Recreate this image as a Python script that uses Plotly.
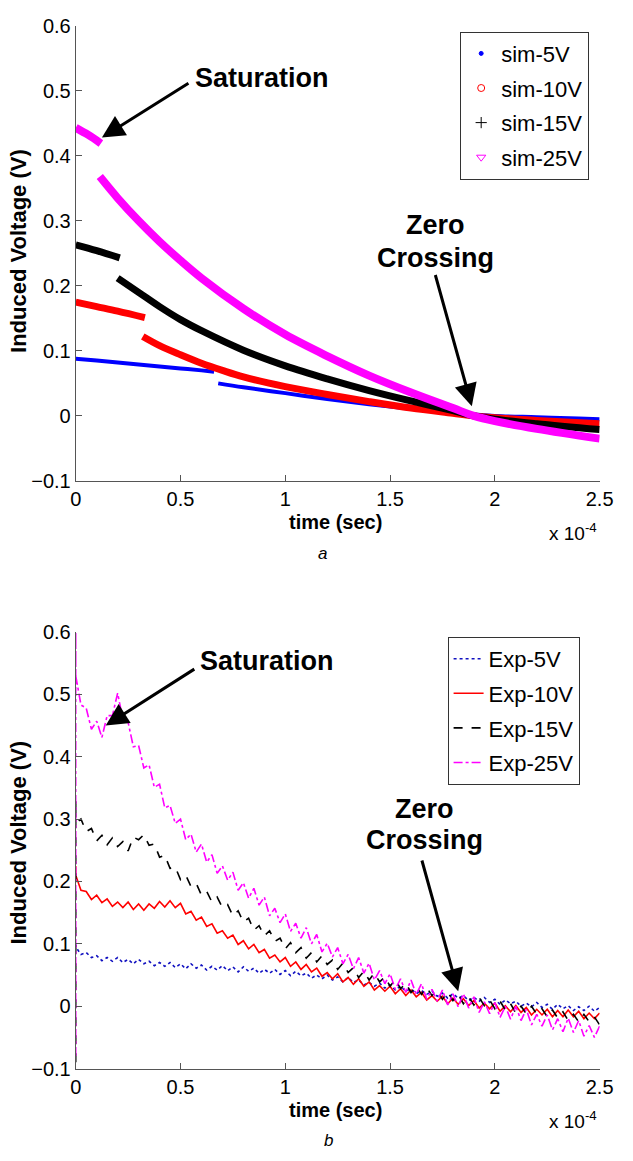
import plotly.graph_objects as go

# ---- panel a: simulated induced voltage (time in units of 1e-4 s) ----
sim5_t = [0.0, 0.1, 0.2, 0.3, 0.4, 0.5, 0.6, 0.66, None,
          0.68, 0.8, 1.0, 1.2, 1.4, 1.6, 1.8, 1.9, 2.0, 2.2, 2.4, 2.5]
sim5_v = [0.088, 0.085, 0.082, 0.079, 0.076, 0.073, 0.070, 0.068, None,
          0.050, 0.044, 0.035, 0.026, 0.018, 0.011, 0.005, 0.002, 0.0, -0.002, -0.004, -0.005]

sim10_t = [0.0, 0.1, 0.2, 0.33, None,
           0.32, 0.4, 0.5, 0.6, 0.7, 0.8, 1.0, 1.2, 1.4, 1.6, 1.8, 1.9, 2.0, 2.2, 2.5]
sim10_v = [0.175, 0.168, 0.161, 0.151, None,
           0.122, 0.108, 0.094, 0.081, 0.070, 0.060, 0.045, 0.033, 0.022, 0.012, 0.004, 0.0, -0.003, -0.007, -0.012]

sim15_t = [0.0, 0.1, 0.21, None,
           0.2, 0.3, 0.4, 0.5, 0.6, 0.8, 1.0, 1.2, 1.4, 1.6, 1.8, 1.9, 2.0, 2.2, 2.5]
sim15_v = [0.263, 0.254, 0.243, None,
           0.212, 0.190, 0.168, 0.148, 0.131, 0.101, 0.077, 0.057, 0.039, 0.023, 0.008, 0.0, -0.005, -0.012, -0.021]

sim25_t = [0.0, 0.06, 0.12, None,
           0.115, 0.2, 0.3, 0.4, 0.5, 0.6, 0.8, 1.0, 1.2, 1.4, 1.6, 1.8, 1.9, 2.0, 2.2, 2.5]
sim25_v = [0.443, 0.432, 0.419, None,
           0.368, 0.335, 0.300, 0.268, 0.239, 0.212, 0.165, 0.125, 0.092, 0.062, 0.036, 0.012, 0.0, -0.008, -0.020, -0.035]

exp_t = [0.000, 0.025, 0.050, 0.075, 0.100, 0.125, 0.150, 0.175, 0.200, 0.225,
         0.250, 0.275, 0.300, 0.325, 0.350, 0.375, 0.400, 0.425, 0.450, 0.475,
         0.500, 0.525, 0.550, 0.575, 0.600, 0.625, 0.650, 0.675, 0.700, 0.725,
         0.750, 0.775, 0.800, 0.825, 0.850, 0.875, 0.900, 0.925, 0.950, 0.975,
         1.000, 1.025, 1.050, 1.075, 1.100, 1.125, 1.150, 1.175, 1.200, 1.225,
         1.250, 1.275, 1.300, 1.325, 1.350, 1.375, 1.400, 1.425, 1.450, 1.475,
         1.500, 1.525, 1.550, 1.575, 1.600, 1.625, 1.650, 1.675, 1.700, 1.725,
         1.750, 1.775, 1.800, 1.825, 1.850, 1.875, 1.900, 1.925, 1.950, 1.975,
         2.000, 2.025, 2.050, 2.075, 2.100, 2.125, 2.150, 2.175, 2.200, 2.225,
         2.250, 2.275, 2.300, 2.325, 2.350, 2.375, 2.400, 2.425, 2.450, 2.475,
         2.500]

exp5_v = [0.095, 0.083, 0.086, 0.078, 0.081, 0.073, 0.078, 0.072, 0.078, 0.070,
          0.075, 0.068, 0.075, 0.068, 0.072, 0.065, 0.070, 0.064, 0.070, 0.062,
          0.068, 0.060, 0.068, 0.061, 0.066, 0.058, 0.064, 0.058, 0.065, 0.057,
          0.063, 0.055, 0.063, 0.056, 0.061, 0.053, 0.059, 0.053, 0.059, 0.051,
          0.057, 0.049, 0.056, 0.049, 0.053, 0.045, 0.050, 0.044, 0.050, 0.042,
          0.047, 0.039, 0.046, 0.038, 0.042, 0.034, 0.038, 0.032, 0.037, 0.029,
          0.034, 0.026, 0.032, 0.024, 0.028, 0.020, 0.025, 0.019, 0.024, 0.016,
          0.021, 0.013, 0.020, 0.013, 0.017, 0.009, 0.014, 0.008, 0.014, 0.006,
          0.011, 0.003, 0.010, 0.004, 0.008, 0.000, 0.005, -0.001, 0.006, -0.002,
          0.003, -0.005, 0.003, -0.004, 0.001, -0.007, -0.001, -0.007, 0.000, -0.008,
          -0.002]

exp10_v = [0.210, 0.186, 0.184, 0.171, 0.178, 0.166, 0.172, 0.160, 0.167, 0.158,
           0.167, 0.155, 0.164, 0.154, 0.164, 0.157, 0.168, 0.159, 0.169, 0.158,
           0.165, 0.148, 0.152, 0.138, 0.143, 0.128, 0.132, 0.117, 0.121, 0.109,
           0.114, 0.099, 0.105, 0.092, 0.099, 0.086, 0.091, 0.077, 0.082, 0.071,
           0.078, 0.064, 0.071, 0.059, 0.067, 0.055, 0.061, 0.048, 0.054, 0.044,
           0.052, 0.039, 0.046, 0.035, 0.044, 0.032, 0.039, 0.026, 0.033, 0.024,
           0.032, 0.020, 0.028, 0.017, 0.026, 0.015, 0.022, 0.010, 0.017, 0.008,
           0.016, 0.004, 0.013, 0.003, 0.012, 0.001, 0.009, -0.003, 0.005, -0.004,
           0.005, -0.008, 0.001, -0.009, 0.001, -0.010, -0.002, -0.014, -0.005, -0.014,
           -0.005, -0.017, -0.007, -0.017, -0.006, -0.017, -0.008, -0.020, -0.011, -0.020,
           -0.011]

exp15_v = [0.294, 0.300, 0.280, 0.285, 0.265, 0.274, 0.259, 0.270, 0.256, 0.264,
           0.249, 0.271, 0.267, 0.275, 0.258, 0.260, 0.239, 0.242, 0.221, 0.223,
           0.203, 0.210, 0.192, 0.197, 0.178, 0.184, 0.167, 0.175, 0.158, 0.163,
           0.145, 0.153, 0.135, 0.141, 0.122, 0.129, 0.113, 0.121, 0.104, 0.109,
           0.092, 0.102, 0.086, 0.094, 0.077, 0.086, 0.071, 0.081, 0.067, 0.074,
           0.059, 0.069, 0.054, 0.062, 0.046, 0.056, 0.042, 0.053, 0.039, 0.047,
           0.032, 0.043, 0.028, 0.037, 0.022, 0.032, 0.019, 0.030, 0.017, 0.025,
           0.011, 0.023, 0.009, 0.019, 0.004, 0.015, 0.002, 0.014, 0.001, 0.010,
           -0.004, 0.008, -0.006, 0.004, -0.011, 0.000, -0.012, 0.000, -0.013, -0.004,
           -0.017, -0.006, -0.019, -0.009, -0.023, -0.013, -0.025, -0.013, -0.025, -0.017,
           -0.030]

exp25_v = [0.530, 0.483, 0.478, 0.444, 0.457, 0.431, 0.466, 0.466, 0.502, 0.460,
           0.455, 0.416, 0.418, 0.382, 0.387, 0.351, 0.356, 0.318, 0.322, 0.293,
           0.300, 0.267, 0.276, 0.247, 0.260, 0.231, 0.243, 0.213, 0.225, 0.202,
           0.215, 0.186, 0.198, 0.173, 0.189, 0.162, 0.175, 0.145, 0.157, 0.134,
           0.148, 0.120, 0.133, 0.109, 0.126, 0.100, 0.115, 0.087, 0.101, 0.079,
           0.094, 0.068, 0.083, 0.060, 0.078, 0.053, 0.069, 0.042, 0.057, 0.036,
           0.052, 0.027, 0.044, 0.022, 0.042, 0.019, 0.036, 0.011, 0.027, 0.008,
           0.026, 0.002, 0.020, -0.001, 0.020, -0.003, 0.015, -0.010, 0.007, -0.012,
           0.006, -0.018, 0.000, -0.021, 0.000, -0.023, -0.005, -0.030, -0.013, -0.032,
           -0.014, -0.038, -0.020, -0.041, -0.019, -0.042, -0.023, -0.048, -0.031, -0.050,
           -0.032]

# start-up spikes at t = 0
spike5_t, spike5_v = [0.0], [0.100]
spike10_t, spike10_v = [0.0], [0.225]
spike15_t, spike15_v = [0.0, 0.0], [-0.09, 0.33]
spike25_t, spike25_v = [0.0, 0.0], [-0.08, 0.60]

x_ticks = [0, 0.5, 1, 1.5, 2, 2.5]
y_ticks = [-0.1, 0, 0.1, 0.2, 0.3, 0.4, 0.5, 0.6]

W, H = 633, 1161
FONT = "Liberation Sans, Arial, Helvetica, sans-serif"
BLUE, RED, BLACK, MAGENTA = "#0000ff", "#ff0000", "#000000", "#ff00ff"


def px(x):
    return x / W


def py(y):
    return 1 - y / H


fig = go.Figure()

sim = [
    ("sim-5V", sim5_t, sim5_v, BLUE, 4, "circle", 4),
    ("sim-10V", sim10_t, sim10_v, RED, 7, "circle-open", 7),
    ("sim-15V", sim15_t, sim15_v, BLACK, 7, "cross-thin-open", 8),
    ("sim-25V", sim25_t, sim25_v, MAGENTA, 8, "triangle-down-open", 8),
]
for name, t, v, col, w, sym, ms in sim:
    fig.add_trace(go.Scatter(x=t, y=v, mode="lines", line=dict(color=col, width=w, shape="spline"),
                             showlegend=False, hoverinfo="skip", xaxis="x", yaxis="y"))
    # legend entry carries the marker symbol of the original
    fig.add_trace(go.Scatter(x=[None], y=[None], mode="markers", name=name, legendgroup=name,
                             marker=dict(symbol=sym, color=col, size=ms, line=dict(color=col, width=1)),
                             legend="legend", xaxis="x", yaxis="y"))

exp = [
    ("Exp-5V", spike5_t + exp_t, spike5_v + exp5_v, "#1010c0", "dot"),
    ("Exp-10V", spike10_t + exp_t, spike10_v + exp10_v, RED, "solid"),
    ("Exp-15V", spike15_t + exp_t, spike15_v + exp15_v, BLACK, "dash"),
    ("Exp-25V", spike25_t + exp_t, spike25_v + exp25_v, MAGENTA, "dashdot"),
]
for name, t, v, col, dash in exp:
    fig.add_trace(go.Scatter(x=t, y=v, mode="lines", name=name, legendgroup=name,
                             line=dict(color=col, width=1.6, dash=dash), hoverinfo="skip",
                             legend="legend2", xaxis="x2", yaxis="y2"))

axis_common = dict(
    showline=True, linecolor="#555", linewidth=1, mirror=False,
    ticks="inside", ticklen=6, tickcolor="#555",
    showgrid=False, zeroline=False,
    tickfont=dict(family=FONT, size=20, color="black"),
)
legend_common = dict(
    xanchor="left", yanchor="top", bgcolor="white", bordercolor="#333", borderwidth=1,
    font=dict(family=FONT, size=22, color="black"), itemwidth=30, tracegroupgap=3,
)
x_dom = [px(72), px(613)]
fig.update_layout(
    width=W, height=H,
    margin=dict(l=0, r=0, t=0, b=0),
    paper_bgcolor="white", plot_bgcolor="white",
    font=dict(family=FONT, color="black"),
    xaxis=dict(domain=x_dom, anchor="y", range=[0, 2.5], tickvals=x_ticks, **axis_common),
    yaxis=dict(domain=[py(479), py(15)], anchor="x", range=[-0.1, 0.6], tickvals=y_ticks, **axis_common),
    xaxis2=dict(domain=x_dom, anchor="y2", range=[0, 2.5], tickvals=x_ticks, **axis_common),
    yaxis2=dict(domain=[py(1078), py(633)], anchor="x2", range=[-0.1, 0.6], tickvals=y_ticks, **axis_common),
    legend=dict(x=px(469), y=py(21), **legend_common),
    legend2=dict(x=px(456), y=py(638), **legend_common),
)


def label(text, cx, cy, size, angle=0):
    # free text placed by its centre, in page pixels
    return dict(text=text, x=px(cx), y=py(cy), xref="paper", yref="paper",
                xanchor="center", yanchor="middle", textangle=angle,
                showarrow=False, font=dict(family=FONT, size=size, color="black"))


ann = []
for dy in (0, 599):
    ann.append(label("<b>time (sec)</b>", 340, 521 + dy, 20))
    ann.append(label("x 10<sup>-4</sup>", 586, 531 + dy, 19))
ann.append(label("<b>Induced Voltage (V)</b>", 13, 245, 22, -90))
ann.append(label("<b>Induced Voltage (V)</b>", 13, 848, 22, -90))
ann.append(label("<i>a</i>", 327, 553, 17))
ann.append(label("<i>b</i>", 333, 1151, 17))

callouts = [
    ("<b>Saturation</b>", 264, 68),
    ("<b>Zero</b>", 443, 218),
    ("<b>Crossing</b>", 443, 252),
    ("<b>Saturation</b>", 269, 663),
    ("<b>Zero</b>", 432, 813),
    ("<b>Crossing</b>", 432, 845),
]
for text, cx, cy in callouts:
    ann.append(label(text, cx, cy, 27))

arrows = [
    ("x", "y", 0.125, 0.428, 0.545, 0.513),
    ("x", "y", 1.89, 0.015, 1.714, 0.219),
    ("x2", "y2", 0.143, 0.45, 0.573, 0.542),
    ("x2", "y2", 1.825, 0.024, 1.65, 0.236),
]
for xr, yr, x, y, ax, ay in arrows:
    ann.append(dict(text="", x=x, y=y, ax=ax, ay=ay, xref=xr, yref=yr, axref=xr, ayref=yr,
                    showarrow=True, arrowhead=2, arrowsize=1.5, arrowwidth=3, arrowcolor="black"))

fig.update_layout(annotations=ann)
# drop the browser's default body margin so the figure sits at the page origin
fig.write_html("out.html", config={"displayModeBar": False},
               post_script="document.body.style.margin='0';document.body.style.overflow='hidden';")
